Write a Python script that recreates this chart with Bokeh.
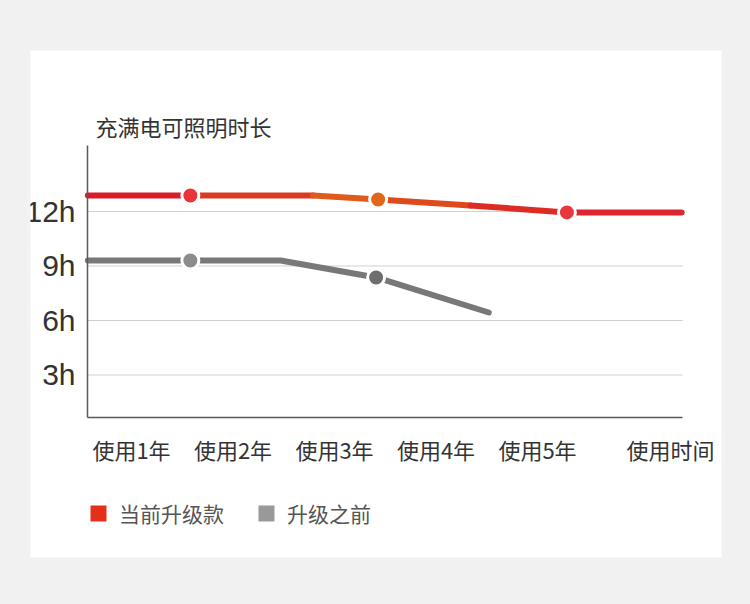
from bokeh.plotting import figure
from bokeh.models import FixedTicker, LinearAxis, Range1d, Label, GlobalInlineStyleSheet
from bokeh.embed import file_html
from bokeh.resources import INLINE

# ---- data ----
x_ticks = [1, 2, 3, 4, 5, 6.31]
x_tick_labels = ["使用1年", "使用2年", "使用3年", "使用4年", "使用5年", "使用时间"]
y_ticks = [3, 6, 9, 12]
y_tick_labels = ["3h", "6h", "9h", "12h"]

new_x = [0.57, 1.58, 2.79, 3.43, 4.34, 5.29, 6.42]
new_y = [12.88, 12.88, 12.88, 12.66, 12.33, 11.95, 11.95]
new_marker_idx = [1, 3, 5]

old_x = [0.57, 1.58, 2.47, 3.41, 4.52]
old_y = [9.3, 9.3, 9.3, 8.37, 6.44]
old_marker_idx = [1, 3]

title_text = "充满电可照明时长"
legend_labels = ["当前升级款", "升级之前"]

# ---- style ----
CJK = "Noto Sans CJK SC"
x_axis_at = 0.66
y_axis_at = 0.567
x_axis_end = 6.43
y_axis_end = 15.63
seg_colors = ["#d81c2a", "#da3a22", "#df5a1b", "#de4a1c", "#dc2c24", "#dd2530"]
new_marker_colors = ["#e8353a", "#e0661c", "#e8383d"]
old_marker_colors = ["#8c8c8c", "#6e6e6e"]

p = figure(width=750, height=604,
           x_range=Range1d(0.005, 6.813), y_range=Range1d(-7.045, 20.86),
           output_backend="svg", toolbar_location=None,
           x_axis_type=None, y_axis_type=None,
           min_border_left=30, min_border_right=29,
           min_border_top=50, min_border_bottom=47)
p.border_fill_color = "#f1f1f1"
p.background_fill_color = "white"
p.outline_line_color = None
p.xgrid.visible = False
p.ygrid.visible = False
p.stylesheets = [GlobalInlineStyleSheet(css="html, body { background-color: #f1f1f1; }")]

# grid lines
p.segment(x0=[y_axis_at] * len(y_ticks), x1=[x_axis_end] * len(y_ticks),
          y0=y_ticks, y1=y_ticks, line_color="#d0d0d0", line_width=1)

# axes
xaxis = LinearAxis(fixed_location=x_axis_at, bounds=(y_axis_at, x_axis_end),
                   ticker=FixedTicker(ticks=x_ticks),
                   major_label_overrides={t: l for t, l in zip(x_ticks, x_tick_labels)})
xaxis.axis_line_color = "#5a5a5a"
xaxis.axis_line_width = 1.5
xaxis.major_tick_line_color = None
xaxis.minor_tick_line_color = None
xaxis.major_label_standoff = 9
xaxis.major_label_text_font = CJK
xaxis.major_label_text_font_size = "22px"
xaxis.major_label_text_color = "#333333"
p.add_layout(xaxis, "below")

yaxis = LinearAxis(fixed_location=y_axis_at, bounds=(x_axis_at, y_axis_end),
                   ticker=FixedTicker(ticks=y_ticks),
                   major_label_overrides={t: l for t, l in zip(y_ticks, y_tick_labels)})
yaxis.axis_line_color = "#5a5a5a"
yaxis.axis_line_width = 1.5
yaxis.major_tick_line_color = None
yaxis.minor_tick_line_color = None
yaxis.major_label_standoff = 6
yaxis.major_label_text_font = "Liberation Sans"
yaxis.major_label_text_font_size = "30px"
yaxis.major_label_text_color = "#333333"
p.add_layout(yaxis, "left")

# series
p.line(old_x, old_y, line_width=6, line_color="#787878", line_cap="round")
p.segment(x0=new_x[:-1], y0=new_y[:-1], x1=new_x[1:], y1=new_y[1:],
          line_color=seg_colors, line_width=6, line_cap="round")

p.scatter([new_x[i] for i in new_marker_idx], [new_y[i] for i in new_marker_idx],
          size=17, fill_color=new_marker_colors, line_color="white", line_width=3)
p.scatter([old_x[i] for i in old_marker_idx], [old_y[i] for i in old_marker_idx],
          size=17, fill_color=old_marker_colors, line_color="white", line_width=3)

# legend swatches (zero-area quads on the series' first point, used only for the legend icon)
p.quad(left=new_x[:1], right=new_x[:1], top=new_y[:1], bottom=new_y[:1],
       fill_color="#e4301a", line_color=None, legend_label=legend_labels[0])
p.quad(left=old_x[:1], right=old_x[:1], top=old_y[:1], bottom=old_y[:1],
       fill_color="#999999", line_color=None, legend_label=legend_labels[1])
lg = p.legend[0]
lg.orientation = "horizontal"
lg.location = (58, 29)
lg.margin = 0
lg.padding = 0
lg.spacing = 32
lg.glyph_width = 20
lg.glyph_height = 20
lg.label_standoff = 11
lg.label_text_font = CJK
lg.label_text_font_size = "21px"
lg.label_text_color = "#555555"
lg.border_line_color = None
lg.background_fill_alpha = 0

# chart title
p.add_layout(Label(x=0.645, y=16.68, text=title_text, text_baseline="middle",
                   text_font=CJK, text_font_size="22px", text_color="#333333"))

open("out.html", "w").write(file_html(p, INLINE))
